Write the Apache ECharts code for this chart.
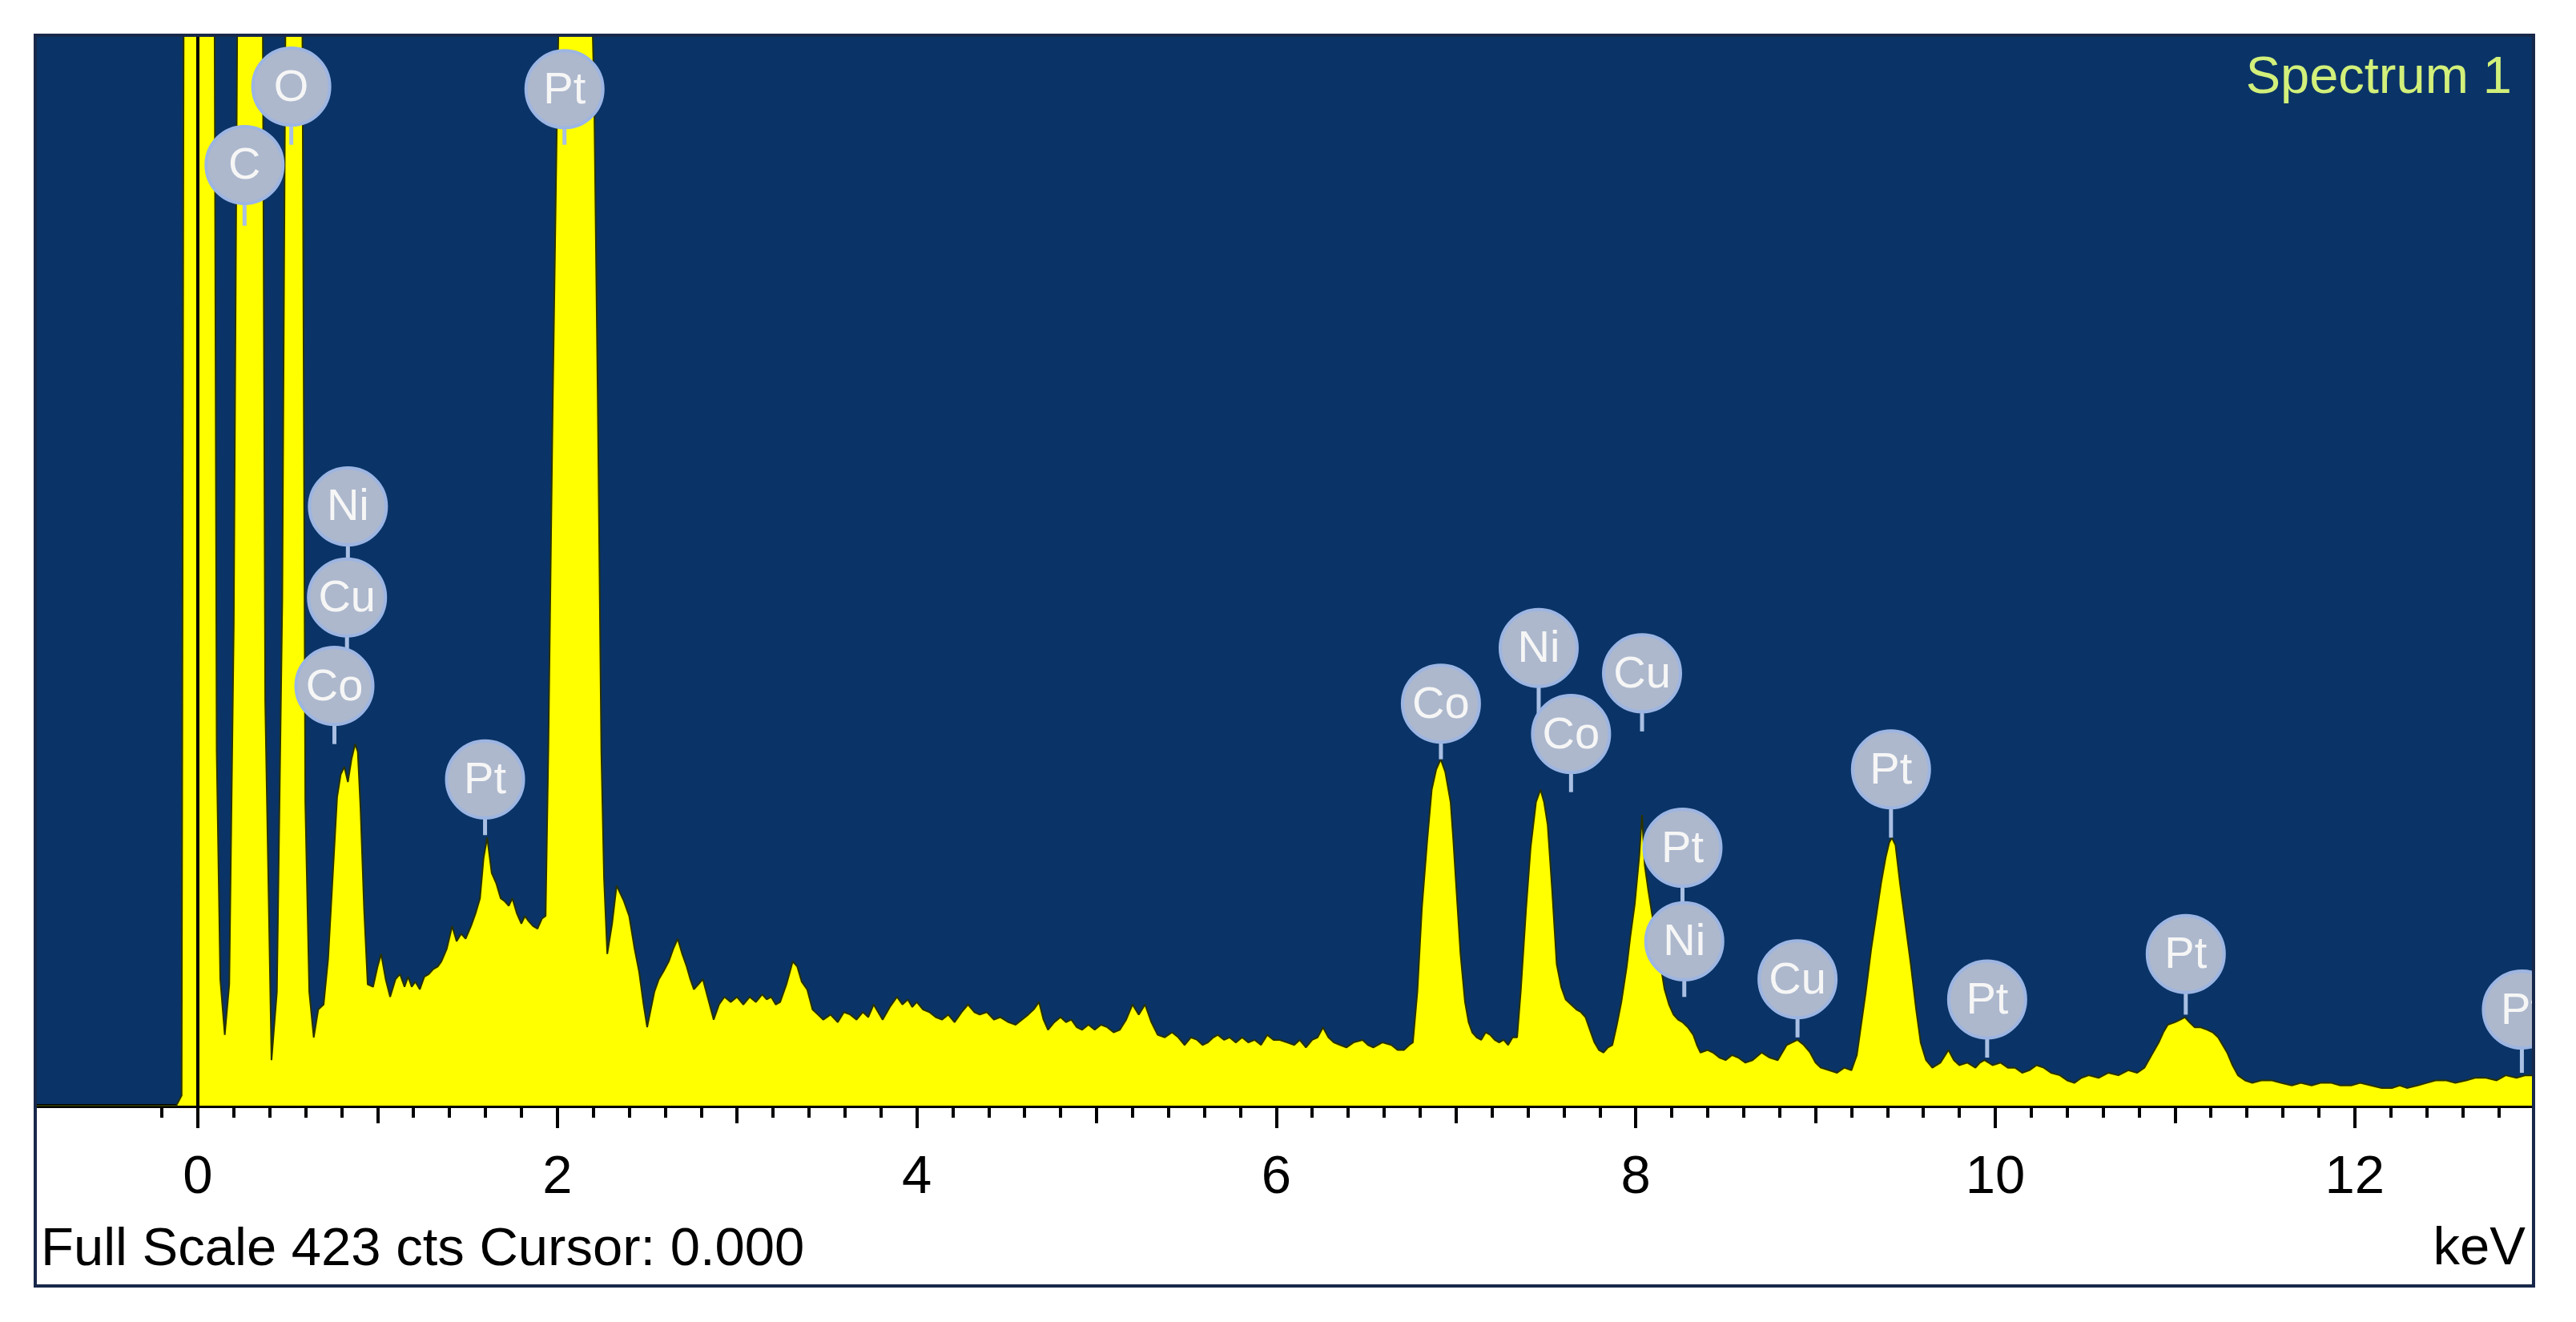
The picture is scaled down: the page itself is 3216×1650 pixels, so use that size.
<!DOCTYPE html>
<html><head><meta charset="utf-8">
<script src="https://cdn.jsdelivr.net/npm/echarts@6/dist/echarts.min.js"></script>
<style>html,body{margin:0;padding:0;background:#fff}#c{width:3216px;height:1650px}</style>
</head><body><div id="c"></div>
<script>
// ---- axis ranges / tick labels ----
const X_MIN = -0.9, X_MAX = 12.986;
const FULL_SCALE = 423;              // cts
const CURSOR_KEV = 0.0;
const majorTicks = [0, 2, 4, 6, 8, 10, 12];
const midTicks = [1, 3, 5, 7, 9, 11];

// ---- spectrum [keV, counts] (values above full scale are off-scale peaks) ----
const specLow = [[-0.9,0],[-0.12,0],[-0.09,4],[-0.078,460],[0.092,460],[0.105,140],[0.125,50],[0.15,28],[0.175,48],[0.2,190],[0.222,460],[0.36,460],[0.375,160],[0.41,18],[0.44,45],[0.47,200],[0.49,460],[0.58,460],[0.598,120],[0.62,45],[0.645,27],[0.67,38],[0.70,40],[0.725,58],[0.75,90],[0.775,122],[0.795,131],[0.815,134],[0.835,128],[0.855,137],[0.875,143],[0.89,140],[0.905,118],[0.925,78],[0.945,48],[0.975,47],[1.0,55],[1.02,60],[1.045,50],[1.07,43],[1.10,50],[1.125,52],[1.15,47],[1.17,51],[1.19,47],[1.21,49],[1.235,46],[1.26,51],[1.285,52],[1.31,54],[1.335,55],[1.355,57],[1.385,62],[1.415,71],[1.44,65],[1.465,68],[1.49,66],[1.52,71],[1.545,76],[1.57,82],[1.59,98],[1.61,106],[1.635,92],[1.66,88],[1.685,82],[1.705,81],[1.73,79],[1.75,82],[1.775,76],[1.80,72],[1.82,75],[1.84,73],[1.865,71],[1.89,70],[1.915,74],[1.935,75],[1.95,140],[1.975,280],[2.0,400],[2.015,460],[2.185,460],[2.205,400],[2.225,280],[2.245,140],[2.26,90],[2.278,60]];
const specMid = [[2.305,72],[2.33,87],[2.35,84],[2.37,81],[2.40,75],[2.43,62],[2.455,53],[2.48,40],[2.50,31],[2.52,38],[2.54,45],[2.565,50],[2.59,53],[2.62,57],[2.645,62],[2.67,66],[2.695,60],[2.72,55],[2.74,50],[2.76,46],[2.785,48],[2.81,50],[2.84,42],[2.87,34],[2.90,40],[2.93,43],[2.965,41],[3.00,43],[3.035,40],[3.07,43],[3.105,41],[3.14,44],[3.165,42],[3.19,43],[3.215,40],[3.24,41],[3.275,48],[3.31,57],[3.335,55],[3.36,49],[3.39,46],[3.42,38],[3.45,36],[3.48,34],[3.52,36],[3.56,33],[3.595,37],[3.63,36],[3.665,34],[3.70,37],[3.73,35],[3.76,40],[3.785,37],[3.81,34],[3.85,39],[3.89,43],[3.92,40],[3.95,42],[3.975,39],[4.00,41],[4.035,38],[4.07,37],[4.105,35],[4.14,34],[4.175,36],[4.21,33],[4.25,37],[4.285,40],[4.32,37],[4.35,36],[4.39,37],[4.43,34],[4.465,35],[4.51,33],[4.55,32],[4.585,34],[4.62,36],[4.65,38],[4.68,41],[4.705,34],[4.73,30],[4.765,33],[4.80,35],[4.83,33],[4.86,34],[4.89,31],[4.92,30],[4.955,32],[4.99,30],[5.025,32],[5.06,31],[5.095,29],[5.13,30],[5.165,34],[5.20,40],[5.235,36],[5.27,40],[5.305,33],[5.34,28],[5.38,27],[5.42,29],[5.455,27],[5.49,24],[5.525,27],[5.56,26],[5.59,24],[5.62,25],[5.65,27],[5.675,28],[5.71,26],[5.74,27],[5.775,25],[5.81,27],[5.845,25],[5.88,26],[5.915,24],[5.95,28],[5.985,26],[6.02,26],[6.06,25],[6.10,24],[6.13,26],[6.165,23],[6.20,26],[6.23,27],[6.26,31],[6.29,27],[6.32,25],[6.355,24],[6.39,23],[6.43,25],[6.48,26],[6.51,24],[6.54,23],[6.59,25],[6.64,24],[6.675,22],[6.71,22],[6.74,24]];
const specK = [[6.76,25],[6.785,45],[6.81,78],[6.84,105],[6.865,125],[6.89,133],[6.915,137],[6.94,132],[6.97,120],[6.985,105],[7.00,88],[7.025,60],[7.05,41],[7.07,33],[7.09,29],[7.115,27],[7.14,26],[7.165,29],[7.19,28],[7.215,26],[7.24,25],[7.265,26],[7.29,24],[7.315,27],[7.34,27],[7.36,45],[7.39,78],[7.415,102],[7.445,120],[7.47,125],[7.49,120],[7.51,111],[7.535,85],[7.56,56],[7.585,47],[7.61,42],[7.64,40],[7.67,38],[7.695,37],[7.72,35],[7.745,30],[7.77,25],[7.795,22],[7.82,21],[7.845,23],[7.87,24],[7.895,32],[7.92,41],[7.95,55],[7.97,67],[7.995,80],[8.02,99],[8.035,115],[8.05,95],[8.07,85],[8.09,76],[8.11,68],[8.135,57],[8.16,46],[8.185,40],[8.21,36],[8.235,34],[8.26,33],[8.29,31],[8.32,28],[8.34,24],[8.36,21],[8.40,22],[8.43,21],[8.465,19],[8.50,18],[8.535,20],[8.57,19],[8.61,17],[8.65,18],[8.70,21],[8.745,19],[8.79,18],[8.84,24],[8.87,25],[8.90,26],[8.935,24],[8.97,21]];
const specHigh = [[9.00,17],[9.03,15],[9.075,14],[9.12,13],[9.16,15],[9.20,14],[9.23,20],[9.25,30],[9.28,45],[9.31,62],[9.34,76],[9.365,88],[9.39,98],[9.41,104],[9.425,106],[9.445,103],[9.47,88],[9.50,72],[9.53,56],[9.56,38],[9.585,25],[9.615,18],[9.65,15],[9.695,17],[9.74,22],[9.77,18],[9.80,16],[9.845,17],[9.89,15],[9.915,17],[9.94,18],[9.985,16],[10.03,17],[10.07,15],[10.11,15],[10.15,13],[10.19,14],[10.23,16],[10.27,15],[10.31,13],[10.36,12],[10.40,10],[10.44,9],[10.48,11],[10.52,12],[10.575,11],[10.63,13],[10.685,12],[10.74,14],[10.79,13],[10.83,15],[10.87,20],[10.91,25],[10.935,29],[10.96,32],[11.0,33],[11.03,34],[11.055,35],[11.08,33],[11.11,31],[11.14,31],[11.18,30],[11.21,29],[11.24,27],[11.265,24],[11.29,21],[11.32,16],[11.35,12],[11.39,10],[11.43,9],[11.48,10],[11.54,10],[11.59,9],[11.65,8],[11.70,9],[11.76,8],[11.81,9],[11.87,9],[11.92,8],[11.98,8],[12.03,9],[12.09,8],[12.15,7],[12.21,7],[12.25,8],[12.29,7],[12.35,8],[12.40,9],[12.45,10],[12.51,10],[12.56,9],[12.62,10],[12.67,11],[12.73,11],[12.79,10],[12.84,12],[12.90,11],[12.95,12],[12.986,12]];

// ---- element markers: name, line position (keV), bubble centre (cts), stem tip (cts) ----
const markerNames  = ['C','O','Pt','Ni','Cu','Co','Pt','Co','Ni','Co','Cu','Pt','Ni','Cu','Pt','Pt','Pt','Pt'];
const markerKeV    = [0.26,0.52,2.04,0.835,0.83,0.76,1.598,6.916,7.46,7.64,8.035,8.26,8.27,8.90,9.42,9.955,11.06,12.93];
const markerCenter = [372,403,402,237,201,166,129,159,181,147,171,102,65,50,133,42,60,38];
const markerTip    = [348,380,380,201,166,143,107,137,147,124,148,65,43,27,106,19,36,13];

const FONT = '"Liberation Sans", Arial, sans-serif';
const minorTicks = [];
for (let i = -1; i <= 64; i++) { if (i % 5 !== 0) minorTicks.push(+(i * 0.2).toFixed(1)); }

const spectrum = specLow.concat(specMid, specK, specHigh);
const markerData = markerKeV.map((k, i) => [k, markerCenter[i], markerTip[i]]);

function tickAxis(values, len, withLabels) {
  return {
    type: 'value', gridIndex: 0, position: 'bottom', min: X_MIN, max: X_MAX,
    axisLine: { show: withLabels, lineStyle: { color: '#000', width: 5 } },
    axisTick: { show: true, customValues: values, length: len, lineStyle: { color: '#000', width: 4 } },
    axisLabel: withLabels ? { show: true, customValues: values, margin: 57, fontSize: 67, color: '#000', fontFamily: FONT }
                          : { show: false },
    splitLine: { show: false }
  };
}

const chart = echarts.init(document.getElementById('c'), null, { renderer: 'canvas', width: 3216, height: 1650 });
chart.setOption({
  backgroundColor: '#ffffff',
  animation: false,
  grid: { left: 45, top: 45, width: 3116, height: 1335, show: true, backgroundColor: '#0a3467', borderWidth: 0 },
  xAxis: [tickAxis(majorTicks, 28, true), tickAxis(midTicks, 22, false), tickAxis(minorTicks, 15, false)],
  yAxis: { type: 'value', min: 0, max: FULL_SCALE, show: false },
  series: [
    {
      type: 'line', xAxisIndex: 0, data: spectrum, showSymbol: false, smooth: false, clip: true, z: 2,
      lineStyle: { color: '#2a3200', width: 2 },
      areaStyle: { color: '#ffff00', opacity: 1 },
      markLine: {
        silent: true, symbol: ['none', 'none'], label: { show: false }, z: 10,
        lineStyle: { color: '#000', width: 4, type: 'solid' },
        data: [{ xAxis: CURSOR_KEV }]
      }
    },
    {
      type: 'custom', xAxisIndex: 0, data: markerData, clip: true, z: 3,
      renderItem: function (params, api) {
        const p0 = api.coord([api.value(0), api.value(1)]);
        const p1 = api.coord([api.value(0), api.value(2)]);
        return { type: 'line', shape: { x1: p0[0], y1: p0[1], x2: p1[0], y2: p1[1] },
                 style: { stroke: '#a9bfe3', lineWidth: 5 } };
      }
    },
    {
      type: 'custom', xAxisIndex: 0, data: markerData, clip: true, z: 4,
      renderItem: function (params, api) {
        const p = api.coord([api.value(0), api.value(1)]);
        return { type: 'group', children: [
          { type: 'circle', shape: { cx: p[0], cy: p[1], r: 48 },
            style: { fill: '#adb8cd', stroke: '#9db5e2', lineWidth: 4 } },
          { type: 'text', style: { text: markerNames[params.dataIndex], x: p[0], y: p[1] + 2,
              textAlign: 'center', textVerticalAlign: 'middle', align: 'center', verticalAlign: 'middle',
              fill: '#f6f6f6', font: '56px ' + FONT } }
        ]};
      }
    }
  ],
  graphic: [
    { type: 'rect', z: 100, shape: { x: 44, y: 44, width: 3119, height: 1561 },
      style: { fill: 'none', stroke: '#18284a', lineWidth: 4 } },
    { type: 'text', z: 100, x: 51, y: 1561,
      style: { text: 'Full Scale ' + FULL_SCALE + ' cts Cursor: ' + CURSOR_KEV.toFixed(3), fill: '#000',
               font: '67px ' + FONT, textAlign: 'left', textVerticalAlign: 'middle', align: 'left', verticalAlign: 'middle' } },
    { type: 'text', z: 100, x: 3153, y: 1560,
      style: { text: 'keV', fill: '#000', font: '67px ' + FONT,
               textAlign: 'right', textVerticalAlign: 'middle', align: 'right', verticalAlign: 'middle' } },
    { type: 'text', z: 100, x: 3136, y: 98,
      style: { text: 'Spectrum 1', fill: '#d2f07a', font: '65px ' + FONT,
               textAlign: 'right', textVerticalAlign: 'middle', align: 'right', verticalAlign: 'middle' } }
  ]
});
</script></body></html>
